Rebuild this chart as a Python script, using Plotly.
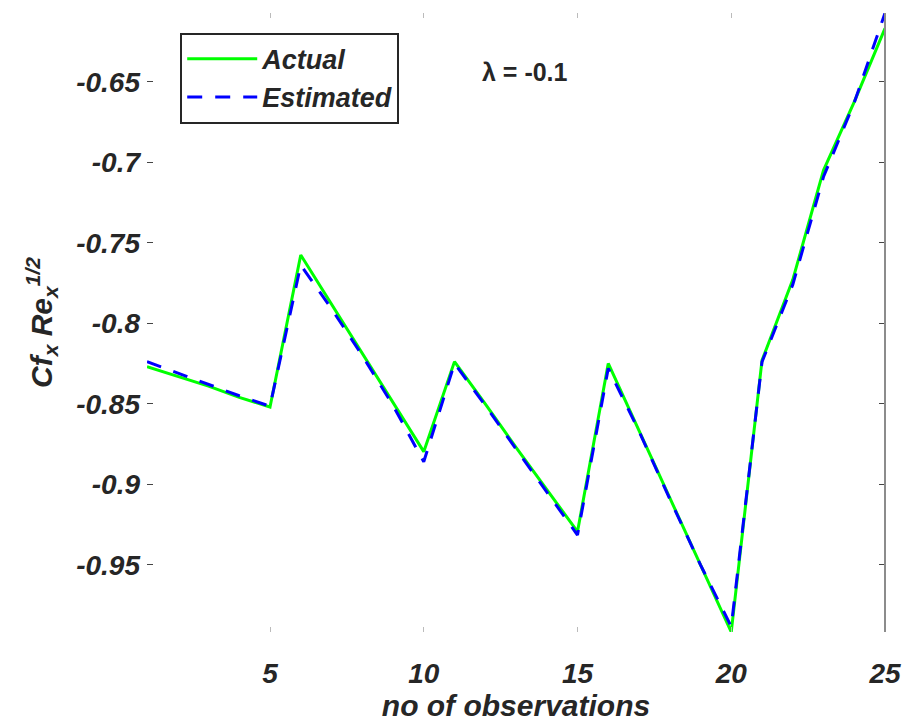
import plotly.graph_objects as go

obs = list(range(1, 26))
actual = [-0.827, -0.833, -0.839, -0.846, -0.852, -0.7576, -0.788, -0.819, -0.849, -0.8797,
          -0.8238, -0.850, -0.877, -0.903, -0.9294, -0.8249, -0.8666, -0.9083, -0.950, -0.9917,
          -0.823, -0.773, -0.705, -0.6625, -0.6168]
estimated = [-0.8238, -0.831, -0.838, -0.845, -0.8515, -0.7638, -0.791, -0.820, -0.851, -0.886,
             -0.8249, -0.851, -0.878, -0.905, -0.9315, -0.828, -0.867, -0.909, -0.950, -0.9884,
             -0.824, -0.776, -0.709, -0.663, -0.6073]
xticks = [5, 10, 15, 20, 25]
yticks = [-0.95, -0.9, -0.85, -0.8, -0.75, -0.7, -0.65]
ytick_text = ["-0.95", "-0.9", "-0.85", "-0.8", "-0.75", "-0.7", "-0.65"]

FAM = "Liberation Sans, Arial, sans-serif"
TXT = "#262626"

fig = go.Figure()
fig.add_trace(go.Scatter(x=obs, y=actual, mode="lines", name="Actual",
                         line=dict(color="#00FF00", width=3)))
fig.add_trace(go.Scatter(x=obs, y=estimated, mode="lines", name="Estimated",
                         line=dict(color="#0000FF", width=3, dash="15px,13px")))

fig.update_layout(
    width=904, height=722,
    margin=dict(l=147, r=19, t=13, b=90, autoexpand=False),
    paper_bgcolor="white", plot_bgcolor="white",
    showlegend=True,
    legend=dict(x=0.045, y=0.968, xanchor="left", yanchor="top",
                bgcolor="white", bordercolor=TXT, borderwidth=2,
                font=dict(family=FAM, size=27, color=TXT, weight="bold", style="italic"),
                tracegroupgap=0, itemwidth=70),
    annotations=[dict(x=13.3, y=-0.644, xref="x", yref="y", text="λ = -0.1", showarrow=False,
                      font=dict(family=FAM, size=25, color=TXT, weight="bold"))],
    shapes=[dict(type="line", xref="paper", yref="paper", x0=1, x1=1, y0=0, y1=1,
                 line=dict(color="#8c8c8c", width=2))],
)
fig.update_xaxes(range=[1, 25], tickvals=xticks, ticktext=[str(v) for v in xticks],
                 automargin=False,
                 showgrid=False, zeroline=False, showline=False,
                 ticks="inside", ticklen=5, tickcolor="#bbbbbb", mirror="ticks",
                 ticklabelstandoff=22,
                 tickfont=dict(family=FAM, size=28, color=TXT, weight="bold", style="italic"),
                 title=dict(text="no of observations", standoff=12,
                            font=dict(family=FAM, size=30, color=TXT, weight="bold", style="italic")))
fig.update_yaxes(range=[-0.9917, -0.6073], tickvals=yticks, ticktext=ytick_text,
                 automargin=False,
                 showgrid=False, zeroline=False, showline=False,
                 ticks="inside", ticklen=6, tickcolor="#444444", mirror="ticks",
                 ticklabelstandoff=6,
                 tickfont=dict(family=FAM, size=28, color=TXT, weight="bold", style="italic"),
                 title=dict(text="Cf<sub>x</sub> Re<sub>x</sub><sup>1/2</sup>", standoff=14,
                            font=dict(family=FAM, size=30, color=TXT, weight="bold", style="italic")))

fig.write_html("out.html")
